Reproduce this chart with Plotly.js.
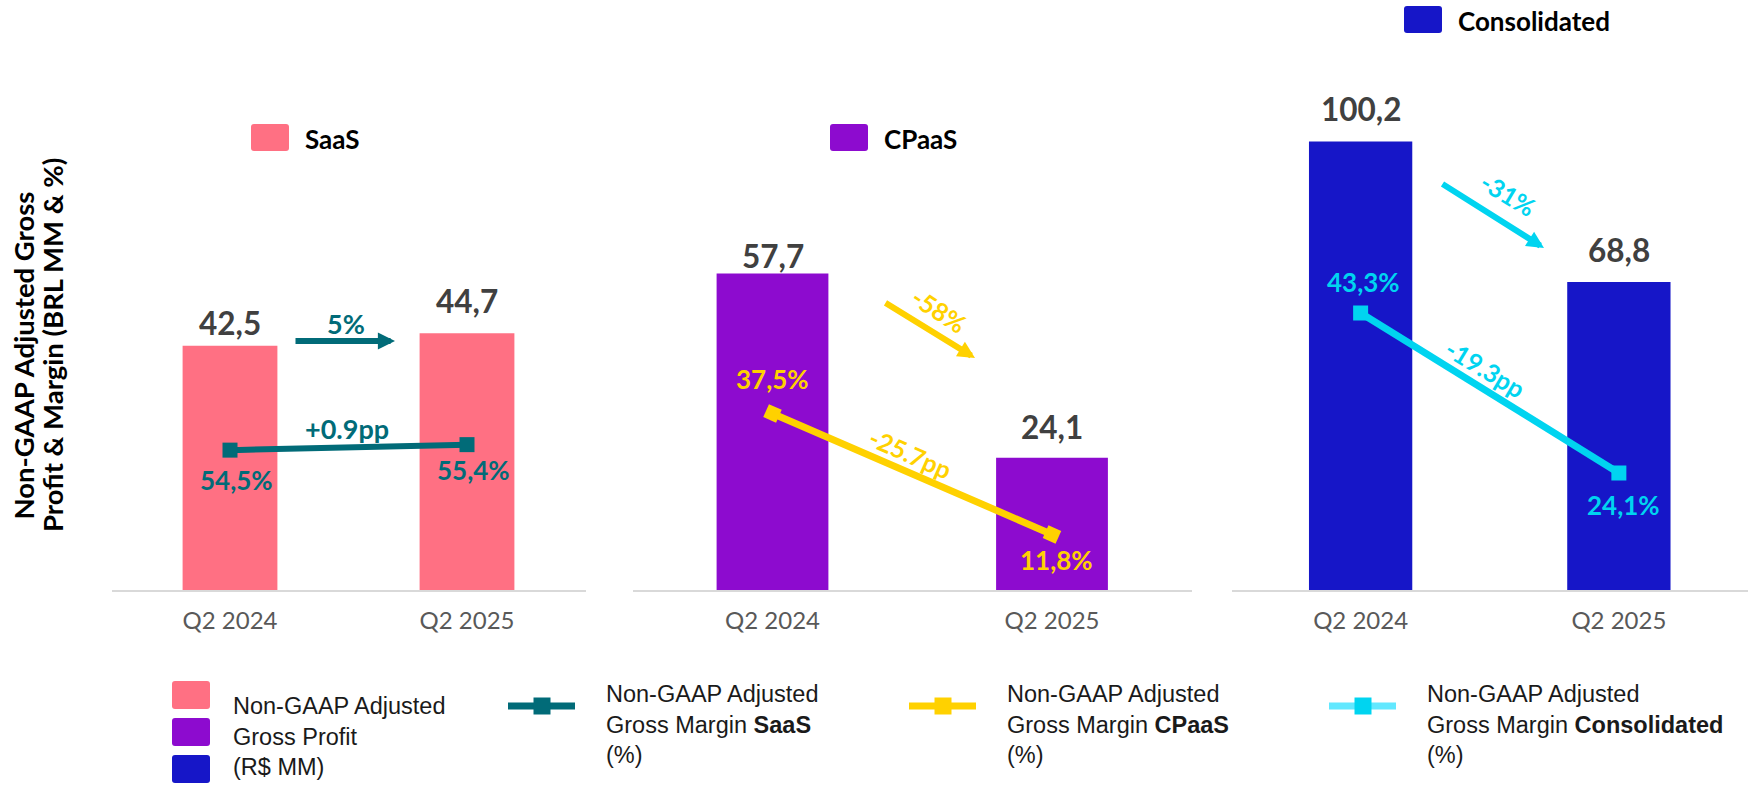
<!DOCTYPE html>
<html>
<head>
<meta charset="utf-8">
<script src="https://cdn.plot.ly/plotly-3.0.1.min.js"></script>
<style>html,body{margin:0;padding:0;background:#fff;}#chart{width:1748px;height:785px;}</style>
</head>
<body>
<div id="chart"></div>
<script>
// ---- data ----
const categories = ['Q2 2024', 'Q2 2025'];
const saasProfit = [42.5, 44.7];
const cpaasProfit = [57.7, 24.1];
const consProfit = [100.2, 68.8];
const saasMargin = [54.5, 55.4];
const cpaasMargin = [37.5, 11.8];
const consMargin = [43.3, 24.1];
const segmentNames = ['SaaS', 'CPaaS', 'Consolidated'];
const profitGrowth = ['5%', '-58%', '-31%'];
const marginChange = ['+0.9pp', '-25.7pp', '-19.3pp'];
const yTitleLines = ['Non-GAAP Adjusted Gross', 'Profit & Margin (BRL MM & %)'];

// ---- helpers ----
const W = 1748, H = 785;
const PX = x => x / W;
const PY = y => 1 - y / H;
const fmt = v => v.toFixed(1).replace('.', ',');
const FONT = 'Lato, "Open Sans", sans-serif';
const LEGFONT = '"Liberation Sans", Arial, sans-serif';

const colors = {
  saasBar: '#FF7083', cpaasBar: '#8D0BCF', consBar: '#1616C8',
  saasLine: '#016B78', cpaasLine: '#FFD100', consLine: '#00D4F0',
  consLegLine: '#62E8FF', value: '#404040', tick: '#595959'
};

const yDom = [PY(590), 1];
const xDoms = [[PX(111.5), PX(585.5)], [PX(632.75), PX(1191.75)], [PX(1231.5), 1]];

function barTrace(vals, color, xa, ya) {
  return {type: 'bar', x: categories, y: vals, width: 0.4, xaxis: xa, yaxis: ya,
    marker: {color: color, line: {width: 0}}, hoverinfo: 'skip', showlegend: false};
}
function lineTrace(vals, color, xa, ya, angle, lw, ms) {
  return {type: 'scatter', mode: 'lines+markers', x: categories, y: vals, xaxis: xa, yaxis: ya,
    line: {color: color, width: lw},
    marker: {symbol: 'square', size: ms, color: color, angle: angle},
    hoverinfo: 'skip', showlegend: false, cliponaxis: false};
}

const data = [
  barTrace(saasProfit, colors.saasBar, 'x', 'y'),
  barTrace(cpaasProfit, colors.cpaasBar, 'x2', 'y2'),
  barTrace(consProfit, colors.consBar, 'x3', 'y3'),
  lineTrace(saasMargin, colors.saasLine, 'x', 'y4', 0, 6, 15),
  lineTrace(cpaasMargin, colors.cpaasLine, 'x2', 'y5', 24, 7, 14),
  lineTrace(consMargin, colors.consLine, 'x3', 'y6', 0, 7, 15)
];

function xAxis(dom) {
  return {domain: dom, range: [-0.5, 1.5], type: 'category', showgrid: false, zeroline: false,
    showline: true, linecolor: '#D9D9D9', linewidth: 2, ticks: '', fixedrange: true,
    tickfont: {family: FONT, size: 24, color: colors.tick}, ticklabelstandoff: 8};
}
function yAxis(range, overlay, anchor) {
  const a = {domain: yDom, range: range, visible: false, showgrid: false, zeroline: false, fixedrange: true, anchor: anchor};
  if (overlay) { a.overlaying = overlay; a.side = 'right'; }
  return a;
}

const annotations = [];
function valueLabels(vals, xa, ya, shifts, xshifts, size, color, fmtFn) {
  vals.forEach((v, i) => {
    annotations.push({xref: xa, yref: ya, x: categories[i], y: v, text: fmtFn(v),
      showarrow: false, xanchor: 'center', yanchor: 'middle', yshift: shifts[i], xshift: xshifts[i],
      font: {family: FONT, size: size, color: color, weight: 'bold'}});
  });
}
valueLabels(saasProfit, 'x', 'y', [23, 32], [0, 0], 31.5, colors.value, fmt);
valueLabels(cpaasProfit, 'x2', 'y2', [18, 31], [0, 0], 31.5, colors.value, fmt);
valueLabels(consProfit, 'x3', 'y3', [32, 32], [0, 0], 31.5, colors.value, fmt);
const pct = v => fmt(v) + '%';
valueLabels(saasMargin, 'x', 'y4', [-30, -25.5], [6, 6], 26, colors.saasLine, pct);
valueLabels(cpaasMargin, 'x2', 'y5', [34, -26], [0, 4], 26, colors.cpaasLine, pct);
valueLabels(consMargin, 'x3', 'y6', [31, -32], [3, 5], 26, colors.consLine, pct);

// change labels
function freeText(txt, x, y, angle, color, size) {
  annotations.push({xref: 'paper', yref: 'paper', x: PX(x), y: PY(y), text: txt, showarrow: false,
    xanchor: 'center', yanchor: 'middle', textangle: angle,
    font: {family: FONT, size: size, color: color, weight: 'bold'}});
}
freeText(profitGrowth[0], 346, 323, 0, colors.saasLine, 27);
freeText(profitGrowth[1], 939, 310, 33, colors.cpaasLine, 25);
freeText(profitGrowth[2], 1508, 194, 31, colors.consLine, 25);
freeText(marginChange[0], 347, 428, 0, colors.saasLine, 27);
freeText(marginChange[1], 910, 453, 24, colors.cpaasLine, 25);
freeText(marginChange[2], 1485, 368, 31, colors.consLine, 25);

// arrows
function arrow(x0, y0, x1, y1, color) {
  annotations.push({xref: 'paper', yref: 'paper', x: PX(x1), y: PY(y1), ax: x0 - x1, ay: y0 - y1,
    axref: 'pixel', ayref: 'pixel', text: '', showarrow: true, arrowhead: 2, arrowsize: 0.57,
    arrowwidth: 6, arrowcolor: color, standoff: 0});
}
arrow(294, 341, 395, 341, colors.saasLine);
arrow(884, 302, 975, 358, colors.cpaasLine);
arrow(1441, 183, 1544, 248, colors.consLine);

// y title (two lines)
[[22.5, 356], [52, 345]].forEach((pos, i) => {
  annotations.push({xref: 'paper', yref: 'paper', x: PX(pos[0]), y: PY(pos[1]), textangle: -90,
    text: yTitleLines[i], showarrow: false, xanchor: 'center', yanchor: 'middle',
    font: {family: FONT, size: 27.5, color: '#000', weight: 'bold'}});
});

// segment labels (top)
const shapes = [];
function roundRect(x0, y0, x1, y1, r, color) {
  const p = (x, y) => PX(x) + ',' + PY(y);
  const path = 'M' + p(x0 + r, y0) + ' L' + p(x1 - r, y0) + ' Q' + p(x1, y0) + ' ' + p(x1, y0 + r) +
    ' L' + p(x1, y1 - r) + ' Q' + p(x1, y1) + ' ' + p(x1 - r, y1) + ' L' + p(x0 + r, y1) +
    ' Q' + p(x0, y1) + ' ' + p(x0, y1 - r) + ' L' + p(x0, y0 + r) + ' Q' + p(x0, y0) + ' ' + p(x0 + r, y0) + ' Z';
  shapes.push({type: 'path', xref: 'paper', yref: 'paper', path: path, fillcolor: color, line: {width: 0}, layer: 'above'});
}
function segLabel(name, sx, sy, color) {
  roundRect(sx, sy, sx + 38, sy + 27, 3, color);
  annotations.push({xref: 'paper', yref: 'paper', x: PX(sx + 52), y: PY(sy + 15), text: '<b>' + name + '</b>',
    showarrow: false, xanchor: 'left', yanchor: 'middle', font: {family: FONT, size: 26, color: '#000'}});
}
segLabel(segmentNames[0], 251, 124, colors.saasBar);
segLabel(segmentNames[1], 830, 124, colors.cpaasBar);
segLabel(segmentNames[2], 1404, 6, colors.consBar);

// bottom legend
function legText(txt, x, yMid) {
  annotations.push({xref: 'paper', yref: 'paper', x: PX(x), y: PY(yMid), xanchor: 'left', yanchor: 'middle',
    align: 'left', text: txt, showarrow: false, font: {family: LEGFONT, size: 23.5, color: '#1a1a1a'}});
}
roundRect(172, 681, 210, 709, 3, colors.saasBar);
roundRect(172, 718, 210, 746, 3, colors.cpaasBar);
roundRect(172, 755, 210, 783, 3, colors.consBar);
legText('Non-GAAP Adjusted<br>Gross Profit<br>(R$ MM)', 231, 736.5);
function lineLegend(x0, lineColor, markColor, name) {
  shapes.push({type: 'line', xref: 'paper', yref: 'paper', x0: PX(x0), x1: PX(x0 + 67), y0: PY(706), y1: PY(706),
    line: {color: lineColor, width: 7}});
  const c = x0 + 34;
  shapes.push({type: 'rect', xref: 'paper', yref: 'paper', x0: PX(c - 8.5), x1: PX(c + 8.5), y0: PY(697.5), y1: PY(714.5),
    fillcolor: markColor, line: {width: 0}});
  legText('Non-GAAP Adjusted<br>Gross Margin <b>' + name + '</b><br>(%)', x0 + 96, 724.5);
}
lineLegend(508, colors.saasLine, colors.saasLine, segmentNames[0]);
lineLegend(909, colors.cpaasLine, colors.cpaasLine, segmentNames[1]);
lineLegend(1329, colors.consLegLine, colors.consLine, segmentNames[2]);

const layout = {
  width: W, height: H, margin: {l: 0, r: 0, t: 0, b: 0},
  paper_bgcolor: '#fff', plot_bgcolor: 'rgba(0,0,0,0)', showlegend: false,
  xaxis: Object.assign(xAxis(xDoms[0]), {anchor: 'y'}),
  xaxis2: Object.assign(xAxis(xDoms[1]), {anchor: 'y2'}),
  xaxis3: Object.assign(xAxis(xDoms[2]), {anchor: 'y3'}),
  yaxis: yAxis([0, 102.7], null, 'x'),
  yaxis2: yAxis([0, 107.6], null, 'x2'),
  yaxis3: yAxis([0, 131.8], null, 'x3'),
  yaxis4: yAxis([31.6, 128.2], 'y', 'x'),
  yaxis5: yAxis([0, 125.3], 'y2', 'x2'),
  yaxis6: yAxis([10.06, 80.86], 'y3', 'x3'),
  annotations: annotations, shapes: shapes
};

Plotly.newPlot('chart', data, layout, {staticPlot: true, displayModeBar: false});
</script>
</body>
</html>
